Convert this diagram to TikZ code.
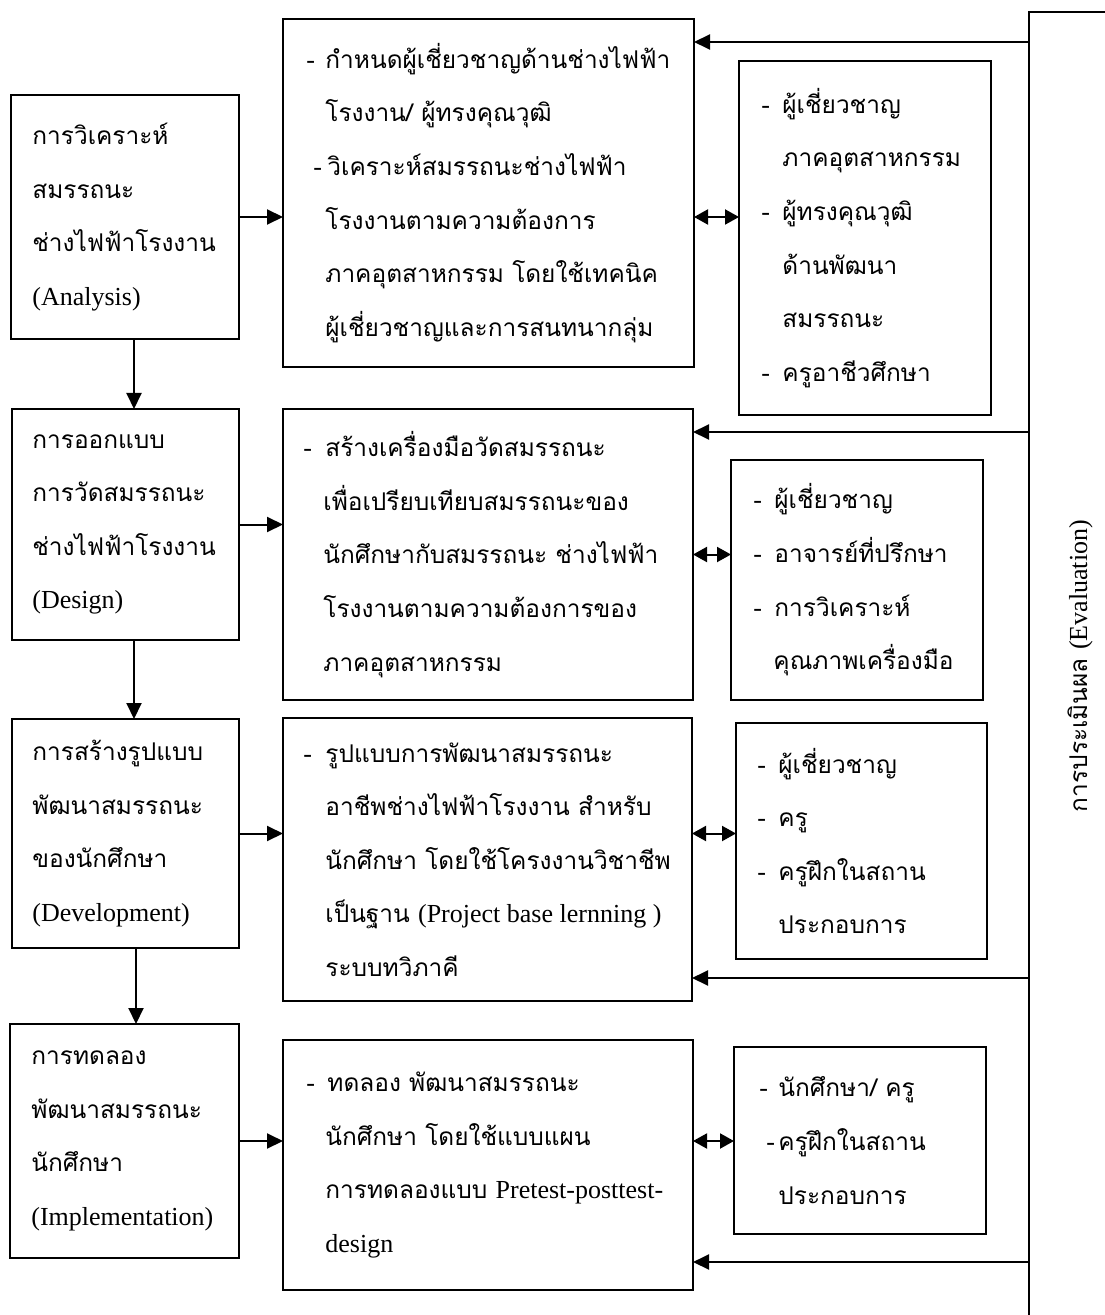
\documentclass[tikz,border=0pt]{standalone}
\usepackage{fontspec}
\setmainfont{Liberation Serif}
\newfontfamily\thaifont[Script=Thai,Scale=0.94]{Loma}
\usetikzlibrary{arrows.meta,calc}

% Latin words inside Thai lines
\newcommand\en[1]{{\rmfamily #1}}
% list dash: optional lead-in, then a fixed-width slot for the dash
\newcommand\bul[2][0pt]{\hspace*{#1}\makebox[#2][l]{\en{-}}}
\newcommand\ind[1]{\hspace*{#1}}
% box from its corners (pixel grid, y downwards)
\newcommand\bx[5]{\node[box, minimum width={(#4-#2)*0.5pt}, minimum height={(#5-#3)*0.5pt}] (#1) at ({(#2+#4)/2},{(#3+#5)/2}) {};}

\tikzset{
  box/.style={draw, line width=1pt, inner sep=0pt, outer sep=0pt},
  txt/.style={anchor=west, align=left, inner sep=0pt,
              font=\fontsize{13pt}{26.8pt}\selectfont\thaifont},
  arr/.style={line width=1pt, -{Triangle[length=8pt,width=7.5pt]}},
  dbl/.style={line width=1pt, {Triangle[length=7pt,width=7.5pt]}-{Triangle[length=7pt,width=7.5pt]}},
}

\begin{document}
\begin{tikzpicture}[x=0.5pt, y=-0.5pt]
\useasboundingbox (0,0) rectangle (1104,1315);

% left column: the phases
\bx{L1}{11}{95}{239}{339}
\bx{L2}{12}{409}{239}{640}
\bx{L3}{12}{719}{239}{948}
\bx{L4}{10}{1024}{239}{1258}
% middle column: activities
\bx{M1}{283}{19}{694}{367}
\bx{M2}{283}{409}{693}{700}
\bx{M3}{283}{718}{692}{1001}
\bx{M4}{283}{1040}{693}{1290}
% right column: participants
\bx{R1}{739}{61}{991}{415}
\bx{R2}{731}{460}{983}{700}
\bx{R3}{736}{723}{987}{959}
\bx{R4}{734}{1047}{986}{1234}
% evaluation band on the right
\bx{EV}{1029}{12}{1130}{1340}

\node[txt] (L1t) at (L1.center -| 32,0) {การวิเคราะห์\\สมรรถนะ\\ช่างไฟฟ้าโรงงาน\\\en{(Analysis)}};
\node[txt] (L2t) at (L2.center -| 32,0) {การออกแบบ\\การวัดสมรรถนะ\\ช่างไฟฟ้าโรงงาน\\\en{(Design)}};
\node[txt] (L3t) at (L3.center -| 32,0) {การสร้างรูปแบบ\\พัฒนาสมรรถนะ\\ของนักศึกษา\\\en{(Development)}};
\node[txt] (L4t) at (L4.center -| 31,0) {การทดลอง\\พัฒนาสมรรถนะ\\นักศึกษา\\\en{(Implementation)}};

\node[txt] (M1t) at (M1.center -| 306,0) {\bul{9.5pt}กำหนดผู้เชี่ยวชาญด้านช่างไฟฟ้า\\
\ind{9.5pt}โรงงาน/ ผู้ทรงคุณวุฒิ\\
\bul[3.5pt]{7pt}วิเคราะห์สมรรถนะช่างไฟฟ้า\\
\ind{9.5pt}โรงงานตามความต้องการ\\
\ind{9.5pt}ภาคอุตสาหกรรม โดยใช้เทคนิค\\
\ind{9.5pt}ผู้เชี่ยวชาญและการสนทนากลุ่ม};
\node[txt] (M2t) at (M2.center -| 303,0) {\bul{11pt}สร้างเครื่องมือวัดสมรรถนะ\\
\ind{10pt}เพื่อเปรียบเทียบสมรรถนะของ\\
\ind{10pt}นักศึกษากับสมรรถนะ ช่างไฟฟ้า\\
\ind{10pt}โรงงานตามความต้องการของ\\
\ind{10pt}ภาคอุตสาหกรรม};
\node[txt] (M3t) at (M3.center -| 303,0) {\bul{11pt}รูปแบบการพัฒนาสมรรถนะ\\
\ind{11pt}อาชีพช่างไฟฟ้าโรงงาน สำหรับ\\
\ind{11pt}นักศึกษา โดยใช้โครงงานวิชาชีพ\\
\ind{11pt}เป็นฐาน \en{(Project base lernning )}\\
\ind{11pt}ระบบทวิภาคี};
\node[txt] (M4t) at (M4.center -| 306,0) {\bul{10.5pt}ทดลอง พัฒนาสมรรถนะ\\
\ind{9.5pt}นักศึกษา โดยใช้แบบแผน\\
\ind{9.5pt}การทดลองแบบ \en{Pretest-posttest-}\\
\ind{9.5pt}\en{design}};

\node[txt] (R1t) at (R1.center -| 761,0) {\bul{10.5pt}ผู้เชี่ยวชาญ\\
\ind{10.5pt}ภาคอุตสาหกรรม\\
\bul{10.5pt}ผู้ทรงคุณวุฒิ\\
\ind{10.5pt}ด้านพัฒนา\\
\ind{10.5pt}สมรรถนะ\\
\bul{10.5pt}ครูอาชีวศึกษา};
\node[txt] (R2t) at (R2.center -| 753,0) {\bul{10.5pt}ผู้เชี่ยวชาญ\\
\bul{10.5pt}อาจารย์ที่ปรึกษา\\
\bul{10.5pt}การวิเคราะห์\\
\ind{10pt}คุณภาพเครื่องมือ};
\node[txt] (R3t) at (R3.center -| 757,0) {\bul{10.5pt}ผู้เชี่ยวชาญ\\
\bul{10.5pt}ครู\\
\bul{10.5pt}ครูฝึกในสถาน\\
\ind{10.5pt}ประกอบการ};
\node[txt] (R4t) at (R4.center -| 759,0) {\bul{9.5pt}นักศึกษา/ ครู\\
\bul[3.5pt]{6pt}ครูฝึกในสถาน\\
\ind{9.5pt}ประกอบการ};

\node[txt, anchor=center, rotate=90] (EVt) at (1080,666) {การประเมินผล \en{(Evaluation)}};

% phase sequence
\coordinate (a1) at ($(L1.south)+(9,0)$);
\coordinate (a2) at ($(L2.south)+(8.5,0)$);
\coordinate (a3) at ($(L3.south)+(10.5,0)$);
\draw[arr] (a1) -- (a1 |- L2.north);
\draw[arr] (a2) -- (a2 |- L3.north);
\draw[arr] (a3) -- (a3 |- L4.north);

% phase to activity
\draw[arr] (L1.east) -- (L1.east -| M1.west);
\draw[arr] (L2.east) -- (L2.east -| M2.west);
\draw[arr] (L3.east) -- (L3.east -| M3.west);
\draw[arr] (L4.east) -- (L4.east -| M4.west);

% activity and participants
\draw[dbl] (L1.east -| M1.east) -- (L1.east -| R1.west);
\draw[dbl] (M2.east) -- (M2.east -| R2.west);
\draw[dbl] (L3.east -| M3.east) -- (L3.east -| R3.west);
\draw[dbl] (L4.east -| M4.east) -- (L4.east -| R4.west);

% feedback from evaluation
\coordinate (e1) at (EV.west |- 0,42);
\coordinate (e2) at (EV.west |- 0,432);
\coordinate (e3) at (EV.west |- 0,978);
\coordinate (e4) at (EV.west |- 0,1262);
\draw[arr] (e1) -- (e1 -| M1.east);
\draw[arr] (e2) -- (e2 -| M2.east);
\draw[arr] (e3) -- (e3 -| M3.east);
\draw[arr] (e4) -- (e4 -| M4.east);
\end{tikzpicture}
\end{document}
